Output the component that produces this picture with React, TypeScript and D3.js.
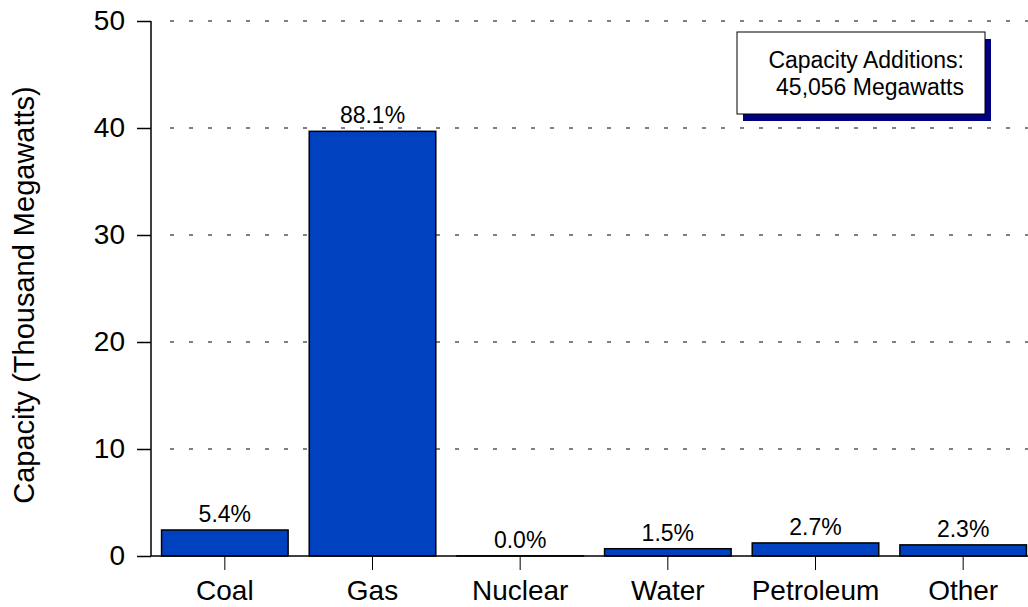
import React, { useEffect, useRef } from "react";
import * as d3 from "d3";

const categories = ["Coal", "Gas", "Nuclear", "Water", "Petroleum", "Other"];
const capacity = [2.43, 39.69, 0.01, 0.68, 1.22, 1.04]; // thousand MW
const shareLabels = ["5.4%", "88.1%", "0.0%", "1.5%", "2.7%", "2.3%"];
const yTicks = [0, 10, 20, 30, 40, 50];
const noteLines = ["Capacity Additions:", "45,056 Megawatts"];

export default function App() {
  const svgRef = useRef<SVGSVGElement>(null);

  useEffect(() => {
    const width = 1028;
    const height = 607;
    const font = "'Liberation Sans', Arial, sans-serif";

    const svg = d3.select(svgRef.current);
    svg.selectAll("*").remove();
    svg.attr("width", width).attr("height", height);

    const x = d3.scaleBand<string>()
      .domain(categories)
      .range([151, 1037])
      .paddingInner(0.143)
      .paddingOuter(0.0715);

    const y = d3.scaleLinear().domain([0, 50]).range([556, 21]);

    // dotted gridlines
    svg.append("g")
      .selectAll("line")
      .data(yTicks.filter(t => t > 0))
      .enter()
      .append("line")
      .attr("x1", 170)
      .attr("x2", width)
      .attr("y1", d => y(d))
      .attr("y2", d => y(d))
      .attr("stroke", "#000")
      .attr("stroke-width", 1)
      .attr("stroke-dasharray", "4,15");

    // bars
    svg.append("g")
      .selectAll("rect")
      .data(categories)
      .enter()
      .append("rect")
      .attr("x", d => x(d)!)
      .attr("y", (d, i) => y(capacity[i]))
      .attr("width", x.bandwidth())
      .attr("height", (d, i) => y(0) - y(capacity[i]))
      .attr("fill", "#0041c0")
      .attr("stroke", "#000")
      .attr("stroke-width", 1.5);

    // share labels
    svg.append("g")
      .selectAll("text")
      .data(categories)
      .enter()
      .append("text")
      .attr("x", d => x(d)! + x.bandwidth() / 2)
      .attr("y", (d, i) => y(capacity[i]) - 8)
      .attr("text-anchor", "middle")
      .style("font-family", font)
      .style("font-size", "23px")
      .text((d, i) => shareLabels[i]);

    // y axis
    const yAxis = svg.append("g").attr("transform", "translate(151,0)")
      .call(d3.axisLeft(y).tickValues(yTicks).tickSize(14).tickPadding(12));
    yAxis.select(".domain").attr("d", `M0,${y(50)}V${y(0)}`).attr("stroke-width", 1.5);
    yAxis.selectAll(".tick line").attr("stroke-width", 1.5);
    yAxis.selectAll("text")
      .style("font-family", font)
      .style("font-size", "28px")
      .attr("fill", "#000");

    // x axis
    const xAxis = svg.append("g").attr("transform", "translate(0,556)")
      .call(d3.axisBottom(x).tickSize(14).tickPadding(10));
    xAxis.select(".domain").attr("d", `M151,0H${width}`).attr("stroke-width", 1.5);
    xAxis.selectAll("text")
      .style("font-family", font)
      .style("font-size", "28px")
      .attr("fill", "#000");

    // y axis title
    svg.append("text")
      .attr("transform", "translate(34,295) rotate(-90)")
      .attr("text-anchor", "middle")
      .style("font-family", font)
      .style("font-size", "29px")
      .text("Capacity (Thousand Megawatts)");

    // annotation box
    const note = svg.append("g");
    note.append("rect")
      .attr("x", 743).attr("y", 39).attr("width", 248).attr("height", 82)
      .attr("fill", "#000080");
    note.append("rect")
      .attr("x", 737).attr("y", 32).attr("width", 248).attr("height", 82)
      .attr("fill", "#fff")
      .attr("stroke", "#000")
      .attr("stroke-width", 1);
    note.selectAll("text.note")
      .data(noteLines)
      .enter()
      .append("text")
      .attr("class", "note")
      .attr("x", 964)
      .attr("y", (d, i) => 68 + i * 27)
      .attr("text-anchor", "end")
      .style("font-family", font)
      .style("font-size", "23px")
      .text(d => d);
  }, []);

  return (
    <svg
      ref={svgRef}
      style={{ position: "absolute", left: 0, top: 0, background: "#fff" }}
    ></svg>
  );
}
